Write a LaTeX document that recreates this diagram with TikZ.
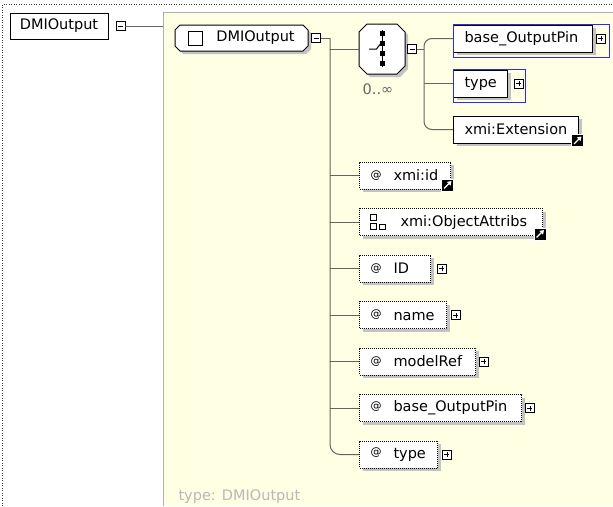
\documentclass[tikz,border=0pt]{standalone}
\usepackage{fontspec}
\setmainfont{DejaVu Sans}
\usetikzlibrary{positioning,shadows,arrows.meta}

\definecolor{typebg}{RGB}{255,255,228}
\definecolor{linegray}{RGB}{100,100,100}
\definecolor{shadowgray}{RGB}{195,195,195}
\definecolor{framegray}{RGB}{175,175,175}
\definecolor{refblue}{RGB}{40,40,255}

% small raised @ in front of attribute names
\newcommand{\atmark}{\makebox[23pt][l]{\raisebox{2.5pt}{\fontsize{11}{11}\selectfont @}}}
% box with cut corners: x1, y1, x2, y2, cut
\newcommand{\cutbox}[5]{%
  \filldraw[line width=1pt, fill=white, boxshadow] (#1+#5,#2) -- (#3-#5,#2) -- (#3,#2+#5) -- (#3,#4-#5)
    -- (#3-#5,#4) -- (#1+#5,#4) -- (#1,#4-#5) -- (#1,#2+#5) -- cycle;}

\tikzset{
  conn/.style={draw=linegray, line width=1pt},
  boxshadow/.style={drop shadow={shadow xshift=3pt, shadow yshift=-3pt, fill=shadowgray, opacity=1}},
  elembox/.style={draw, line width=1pt, fill=white, anchor=west, minimum height=27pt,
    inner xsep=11pt, inner ysep=0pt, align=left, boxshadow},
  attrbox/.style={elembox, dash pattern=on 1pt off 1pt},
  pmbox/.style={draw, line width=0.9pt, fill=white, minimum size=9pt, inner sep=0pt},
  minusbox/.style={pmbox, path picture={
    \draw[line width=0.9pt] ([xshift=2pt]path picture bounding box.west) -- ([xshift=-2pt]path picture bounding box.east);}},
  plusbox/.style={pmbox, path picture={
    \draw[line width=0.9pt] ([xshift=2pt]path picture bounding box.west) -- ([xshift=-2pt]path picture bounding box.east);
    \draw[line width=0.9pt] ([yshift=2pt]path picture bounding box.south) -- ([yshift=-2pt]path picture bounding box.north);}},
  refmark/.style={draw=white, fill=black, line width=0.8pt, minimum size=12pt, inner sep=0pt, path picture={
    \draw[white, line width=1.4pt, -{Triangle[length=4pt,width=5pt]}]
      ([shift={(2.5pt,2.5pt)}]path picture bounding box.south west) -- ([shift={(-2pt,-2pt)}]path picture bounding box.north east);}},
}

\begin{document}
\begin{tikzpicture}[x=1pt, y=-1pt, font=\fontsize{14.5}{17}\selectfont]
\useasboundingbox (0,0) rectangle (613,506);
\fill[white] (0,0) rectangle (613,506);

% dotted frame round the diagram
\draw[black!75, line width=0.9pt, dash pattern=on 1pt off 1.5pt] (2.5,506) -- (2.5,4.5) -- (613,4.5);

% area of the complex type
\fill[typebg] (163,12) rectangle (613,506);
\draw[framegray, line width=0.8pt] (163,506) -- (163,12) -- (613,12);
\node[anchor=base west, text=black!28] (tname) at (175,500) {type: DMIOutput};

% global element
\node[draw, line width=1pt, fill=white, minimum width=98pt, minimum height=26pt, inner sep=0pt] (root) at (59,26) {DMIOutput};
\node[minusbox, right=7pt of root] (rminus) {};
\coordinate (tedge) at (163,26);
\draw[conn] (rminus) -- (tedge);

% local element
\cutbox{175}{25}{308}{51}{5}
\node[minimum width=133pt, minimum height=26pt, inner sep=0pt] (elem) at (241.5,38) {\hspace{28pt}DMIOutput};
\draw[line width=1pt, fill=white] (188,31) rectangle (202,45);
\node[minusbox, right=3pt of elem] (eminus) {};
\coordinate (trunk) at (330,38);

% sequence
\cutbox{359}{24}{405}{74}{8}
\node[minimum width=46pt, minimum height=50pt, inner sep=0pt] (seq) at (382,49) {};
\draw[line width=1pt] (382,30) -- (382,67);
\foreach \y in {33,43,53,63}
  \fill (379.5,\y-2.5) rectangle +(5,5);
\draw[line width=1pt] (369,49) -- (376.5,49) -- (381.5,42.5);
\node[below=6pt of seq, xshift=-4pt, text=black!60] (card) {0..∞};
\node[minusbox, right=2pt of seq] (cminus) {};
\coordinate (branch) at (424,49);

% children of the sequence
\node[elembox, text width=117pt] (pin) at (453,38.5) {base\_OutputPin};
\node[plusbox, right=3pt of pin] (pinplus) {};
\draw[refblue, line width=0.8pt] (pin.north west) rectangle ([shift={(16,5)}]pin.south east);

\node[elembox, text width=32pt] (ptype) at (453,83.5) {type};
\node[plusbox, right=6pt of ptype] (ptypeplus) {};
\draw[refblue, line width=0.8pt] (ptype.north west) rectangle ([shift={(17,5)}]ptype.south east);

\node[elembox, text width=103pt] (ext) at (453,129.5) {xmi:Extension};
\node[refmark] (extref) at ([shift={(-1.5,-3)}]ext.south east) {};

% attributes
\node[attrbox, text width=69pt] (aid) at (359,175.5) {\atmark xmi:id};
\node[refmark] (aidref) at ([shift={(-3.5,-4.5)}]aid.south east) {};

\node[attrbox, text width=161pt] (agroup) at (359,222) {\hspace{30pt}xmi:ObjectAttribs};
\node[refmark] (agroupref) at ([shift={(-3,-2)}]agroup.south east) {};
\draw[line width=0.9pt] (370,214) rectangle (376,220) (370,223) rectangle (376,229) (379,224.5) rectangle (385.5,229);

\node[attrbox, text width=49pt] (aID) at (359,268.5) {\atmark ID};
\node[plusbox, right=6pt of aID] (aIDplus) {};

\node[attrbox, text width=65pt] (aname) at (359,315) {\atmark name};
\node[plusbox, right=4pt of aname] (anameplus) {};

\node[attrbox, text width=94pt] (amodel) at (359,361.5) {\atmark modelRef};
\node[plusbox, right=3pt of amodel] (amodelplus) {};

\node[attrbox, text width=140pt] (apin) at (359,408) {\atmark base\_OutputPin};
\node[plusbox, right=3pt of apin] (apinplus) {};

\node[attrbox, text width=56pt] (atype) at (359,454.5) {\atmark type};
\node[plusbox, right=4pt of atype] (atypeplus) {};

% connectors
\draw[conn] (eminus) -- (trunk);
\draw[conn, rounded corners=10pt] (trunk) -- (trunk |- atype.west) -- (atype.west);
\draw[conn] (trunk |- seq.west) -- (seq.west);
\foreach \n in {aid,agroup,aID,aname,amodel,apin}
  \draw[conn] (trunk |- \n.west) -- (\n.west);

\draw[conn] (cminus) -- (branch);
\draw[conn, rounded corners=8pt] (pin.west) -- (branch |- pin.west) -- (branch |- ext.west) -- (ext.west);
\draw[conn] (branch |- ptype.west) -- (ptype.west);
\end{tikzpicture}
\end{document}
